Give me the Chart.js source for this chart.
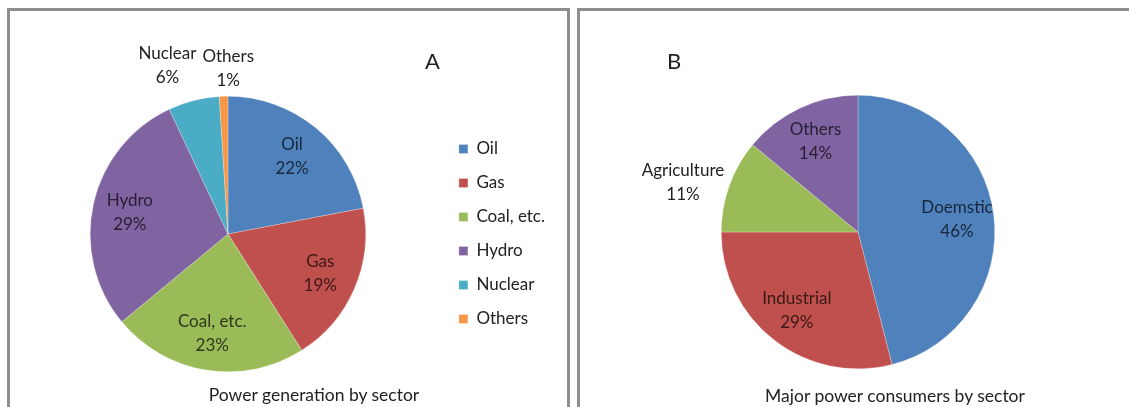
<!DOCTYPE html>
<html>
<head>
<meta charset="utf-8">
<script src="https://cdn.jsdelivr.net/npm/chart.js@4/dist/chart.umd.min.js"></script>
<style>
  html, body { margin: 0; padding: 0; background: #fff; width: 1129px; height: 407px; overflow: hidden; }
  body { position: relative; font-family: Lato, "Open Sans", sans-serif; color: #222; }
  .panel { position: absolute; border: 3px solid #8e8e8e; box-sizing: border-box; }
  #panelA { left: 7px; top: 8px; width: 563px; height: 420px; }
  #panelB { left: 577px; top: 8px; width: 570px; height: 420px; }
  canvas { position: absolute; }
  #chartA { left: 12px; top: 12px; }
  #chartB { left: 582px; top: 12px; }
  .letter { position: absolute; font-size: 22px; line-height: 22px; }
  .caption { position: absolute; font-size: 17.5px; line-height: 20px; white-space: nowrap; transform: translateX(-50%); }
</style>
</head>
<body>
<div class="panel" id="panelA"></div>
<div class="panel" id="panelB"></div>
<canvas id="chartA" width="550" height="395"></canvas>
<canvas id="chartB" width="540" height="395"></canvas>
<div class="letter" style="left:425px; top:50px;">A</div>
<div class="letter" style="left:667px; top:50px;">B</div>
<div class="caption" style="left:314px; top:385px;">Power generation by sector</div>
<div class="caption" style="left:895px; top:386px;">Major power consumers by sector</div>
<script>
const genLabels = ['Oil', 'Gas', 'Coal, etc.', 'Hydro', 'Nuclear', 'Others'];
const genValues = [22, 19, 23, 29, 6, 1];
const useLabels = ['Doemstic', 'Industrial', 'Agriculture', 'Others'];
const useValues = [46, 29, 11, 14];

const genColors = ['#4f81bd', '#c0504d', '#9bbb59', '#8064a2', '#4bacc6', '#f79646'];
const useColors = ['#4f81bd', '#c0504d', '#9bbb59', '#8064a2'];

function darken(hex, f) {
  const n = parseInt(hex.slice(1), 16);
  const r = Math.round(((n >> 16) & 255) * f);
  const g = Math.round(((n >> 8) & 255) * f);
  const b = Math.round((n & 255) * f);
  return `rgb(${r},${g},${b})`;
}

// slice labels: inside for big slices, outside for small ones
const sliceLabels = {
  id: 'sliceLabels',
  afterDatasetsDraw(chart) {
    const ctx = chart.ctx;
    const ds = chart.data.datasets[0];
    const meta = chart.getDatasetMeta(0);
    const total = ds.data.reduce((a, b) => a + b, 0);
    const lineH = 24;
    const inside = [];
    const outside = [];
    ctx.save();
    ctx.font = '17px Lato';
    meta.data.forEach((arc, i) => {
      const p = arc.getProps(['x', 'y', 'startAngle', 'endAngle', 'outerRadius'], true);
      const mid = (p.startAngle + p.endAngle) / 2;
      const ux = Math.cos(mid);
      const uy = Math.sin(mid);
      const lines = [chart.data.labels[i], ds.data[i] + '%'];
      const w = Math.max(...lines.map((t) => ctx.measureText(t).width));
      const h = lineH * lines.length;
      if (ds.data[i] / total >= 0.12) {
        const d = p.outerRadius * 0.73;
        inside.push({ cx: p.x + ux * d, cy: p.y + uy * d, w, h, lines, color: darken(ds.backgroundColor[i], 0.3) });
      } else {
        const px = p.x + ux * (p.outerRadius + 8);
        const py = p.y + uy * (p.outerRadius + 8);
        const side = Math.abs(ux) > Math.abs(uy);
        outside.push({ cx: px + ux * w / 2, cy: side ? py : py + uy * h / 2, w, h, lines, color: '#222' });
      }
    });
    outside.sort((a, b) => a.cx - b.cx);
    for (let k = 1; k < outside.length; k++) {
      const a = outside[k - 1];
      const b = outside[k];
      const gap = (a.cx + a.w / 2 + 6) - (b.cx - b.w / 2);
      if (gap > 0 && Math.abs(a.cy - b.cy) < (a.h + b.h) / 2) {
        a.cx -= gap * 0.75;
        b.cx += gap * 0.25;
        a.cy -= 4;
        b.cy += 4;
      }
    }
    ctx.textAlign = 'center';
    ctx.textBaseline = 'middle';
    inside.concat(outside).forEach((lb) => {
      ctx.fillStyle = lb.color;
      lb.lines.forEach((t, k) => {
        ctx.fillText(t, lb.cx, lb.cy - lb.h / 2 + lineH / 2 + k * lineH);
      });
    });
    ctx.restore();
  }
};

new Chart(document.getElementById('chartA'), {
  type: 'pie',
  data: {
    labels: genLabels,
    datasets: [{
      data: genValues,
      backgroundColor: genColors,
      borderColor: 'rgba(255,255,255,0.5)',
      borderWidth: 0.5
    }]
  },
  options: {
    responsive: false,
    animation: false,
    layout: { padding: { top: 84, bottom: 35, left: 2, right: 7 } },
    plugins: {
      legend: {
        position: 'right',
        labels: {
          boxWidth: 9,
          boxHeight: 9,
          padding: 17,
          color: '#222',
          font: { family: 'Lato', size: 17 }
        }
      },
      tooltip: { enabled: false }
    }
  },
  plugins: [sliceLabels]
});

new Chart(document.getElementById('chartB'), {
  type: 'pie',
  data: {
    labels: useLabels,
    datasets: [{
      data: useValues,
      backgroundColor: useColors,
      borderColor: 'rgba(255,255,255,0.5)',
      borderWidth: 0.5
    }]
  },
  options: {
    responsive: false,
    animation: false,
    layout: { padding: { top: 83, bottom: 38, left: 12, right: 0 } },
    plugins: {
      legend: { display: false },
      tooltip: { enabled: false }
    }
  },
  plugins: [sliceLabels]
});
</script>
</body>
</html>
